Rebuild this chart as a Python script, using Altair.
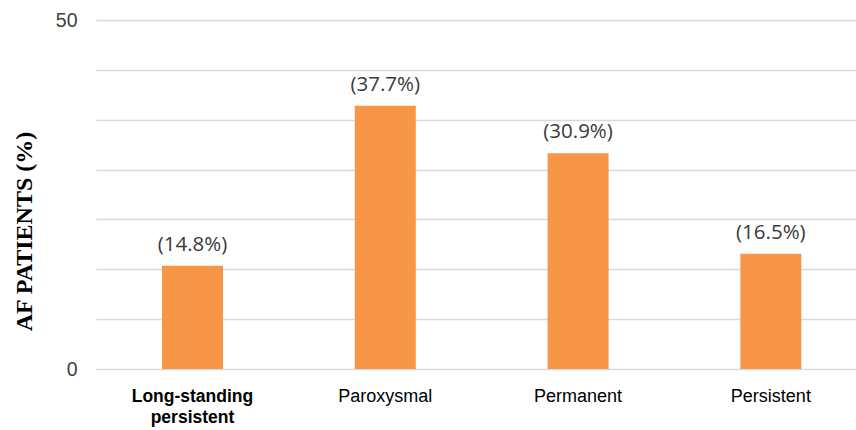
import altair as alt
import pandas as pd

# AF type distribution
categories = ["Long-standing persistent", "Paroxysmal", "Permanent", "Persistent"]
shares = [14.8, 37.7, 30.9, 16.5]
share_labels = ["(14.8%)", "(37.7%)", "(30.9%)", "(16.5%)"]

y_max = 50
grid_steps = 7
grid_values = [round(i * y_max / grid_steps, 6) for i in range(grid_steps + 1)]

df = pd.DataFrame({"type": categories, "share": shares, "label": share_labels})

bold_test = "datum.value == 'Long-standing persistent'"

x = alt.X(
    "type:N",
    sort=categories,
    title=None,
    scale=alt.Scale(paddingInner=0.6836, paddingOuter=0.3128, align=0.547),
    axis=alt.Axis(
        labelAngle=0,
        domain=False,
        ticks=False,
        labelPadding=18,
        labelFont="Liberation Sans",
        labelFontSize={"condition": {"test": bold_test, "value": 17.5}, "value": 18},
        labelFontWeight={"condition": {"test": bold_test, "value": "bold"}, "value": "normal"},
        labelColor="#000000",
        labelLineHeight=21,
        labelBaseline="top",
        labelExpr=f"{bold_test} ? ['Long-standing', 'persistent'] : datum.value",
    ),
)

y = alt.Y(
    "share:Q",
    scale=alt.Scale(domain=[0, y_max], nice=False),
    axis=alt.Axis(
        values=grid_values,
        title="AF PATIENTS (%)",
        labelExpr=f"datum.value == 0 || datum.value == {y_max} ? format(datum.value, 'd') : ''",
        domain=False,
        ticks=False,
        labelPadding=19,
        labelFont="Liberation Sans",
        labelFontSize=19.5,
        labelColor="#404040",
        gridColor="#D9D9D9",
        gridWidth=1.5,
        titleFont="Liberation Serif",
        titleFontWeight="bold",
        titleFontSize=24,
        titleColor="#000000",
        titleAngle=-90,
        titleAlign="center",
        titleBaseline="alphabetic",
        titleX=-65,
        titleY=211,
    ),
)

bars = alt.Chart().mark_bar(color="#F79646").encode(x=x, y=y)

values = alt.Chart().mark_text(
    baseline="middle", dy=-21, font="Open Sans", fontSize=20.5, color="#3A3A3A"
).encode(x=x, y=y, text="label:N")

chart = (
    alt.layer(bars, values, data=df)
    .properties(
        width=760,
        height=349,
        autosize=alt.AutoSizeParams(type="none"),
        padding={"left": 96, "top": 20, "right": 0, "bottom": 61},
    )
    .configure_view(stroke=None)
)

chart.save("out.html", embed_options={"renderer": "svg", "actions": False})
